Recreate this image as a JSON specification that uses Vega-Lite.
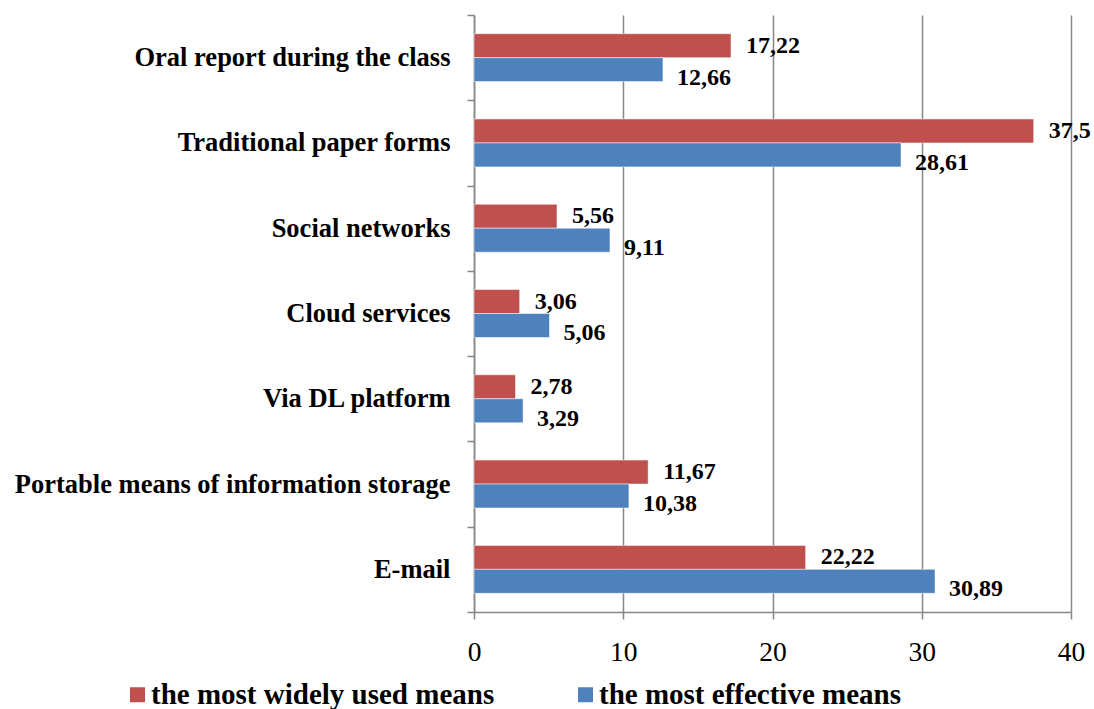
{
  "$schema": "https://vega.github.io/schema/vega-lite/v6.json",
  "width": 597,
  "height": 597,
  "autosize": {"type": "none"},
  "padding": {"left": 474, "top": 15, "right": 23, "bottom": 97},
  "background": "white",
  "config": {
    "font": "Liberation Serif",
    "view": {"stroke": null}
  },
  "data": {
    "values": [
      {"category": "Oral report during the class", "series": "the most widely used means", "value": 17.22, "label": "17,22"},
      {"category": "Oral report during the class", "series": "the most effective means", "value": 12.66, "label": "12,66"},
      {"category": "Traditional paper forms", "series": "the most widely used means", "value": 37.5, "label": "37,5"},
      {"category": "Traditional paper forms", "series": "the most effective means", "value": 28.61, "label": "28,61"},
      {"category": "Social networks", "series": "the most widely used means", "value": 5.56, "label": "5,56"},
      {"category": "Social networks", "series": "the most effective means", "value": 9.11, "label": "9,11"},
      {"category": "Cloud services", "series": "the most widely used means", "value": 3.06, "label": "3,06"},
      {"category": "Cloud services", "series": "the most effective means", "value": 5.06, "label": "5,06"},
      {"category": "Via DL platform", "series": "the most widely used means", "value": 2.78, "label": "2,78"},
      {"category": "Via DL platform", "series": "the most effective means", "value": 3.29, "label": "3,29"},
      {"category": "Portable means of information storage", "series": "the most widely used means", "value": 11.67, "label": "11,67"},
      {"category": "Portable means of information storage", "series": "the most effective means", "value": 10.38, "label": "10,38"},
      {"category": "E-mail", "series": "the most widely used means", "value": 22.22, "label": "22,22"},
      {"category": "E-mail", "series": "the most effective means", "value": 30.89, "label": "30,89"}
    ]
  },
  "encoding": {
    "y": {
      "field": "category",
      "type": "nominal",
      "sort": ["Oral report during the class", "Traditional paper forms", "Social networks", "Cloud services", "Via DL platform", "Portable means of information storage", "E-mail"],
      "scale": {"paddingInner": 0, "paddingOuter": 0},
      "axis": {
        "title": null,
        "tickBand": "extent",
        "domainColor": "#868686",
        "domainWidth": 1.5,
        "tickColor": "#868686",
        "tickWidth": 1.5,
        "tickSize": 7,
        "labelPadding": 17,
        "labelFont": "Liberation Serif",
        "labelFontSize": 26.5,
        "labelFontWeight": "bold",
        "labelColor": "black",
        "labelLimit": 500,
        "grid": false
      }
    },
    "yOffset": {
      "field": "series",
      "type": "nominal",
      "sort": ["the most widely used means", "the most effective means"],
      "scale": {"paddingInner": 0, "paddingOuter": 0.78}
    },
    "x": {
      "field": "value",
      "type": "quantitative",
      "scale": {"domain": [0, 40], "nice": false},
      "axis": {
        "title": null,
        "values": [0, 10, 20, 30, 40],
        "grid": true,
        "gridColor": "#868686",
        "gridWidth": 1.5,
        "domainColor": "#868686",
        "domainWidth": 1.5,
        "tickColor": "#868686",
        "tickWidth": 1.5,
        "tickSize": 7,
        "labelPadding": 19,
        "labelFont": "Liberation Serif",
        "labelFontSize": 27.5,
        "labelColor": "black",
        "labelFlush": false
      }
    }
  },
  "layer": [
    {
      "mark": {"type": "bar", "stroke": "white", "strokeWidth": 0.5},
      "encoding": {
        "color": {
          "field": "series",
          "type": "nominal",
          "sort": ["the most widely used means", "the most effective means"],
          "scale": {"domain": ["the most widely used means", "the most effective means"], "range": ["#C0504D", "#4F81BD"]},
          "legend": {
            "title": null,
            "orient": "none",
            "direction": "horizontal",
            "columns": 2,
            "columnPadding": 76,
            "legendX": -351,
            "legendY": 665,
            "padding": 0,
            "symbolType": "square",
            "symbolSize": 225,
            "symbolStrokeWidth": 0,
            "symbolOpacity": 1,
            "labelFont": "Liberation Serif",
            "labelFontSize": 29,
            "labelFontWeight": "bold",
            "labelColor": "black",
            "labelOffset": -1,
            "labelLimit": 500
          }
        }
      }
    },
    {
      "transform": [{"filter": "datum.series === 'the most widely used means'"}],
      "mark": {"type": "text", "align": "left", "baseline": "middle", "dx": 15, "dy": 0, "font": "Liberation Serif", "fontSize": 24, "fontWeight": "bold", "color": "black"},
      "encoding": {"text": {"field": "label"}}
    },
    {
      "transform": [{"filter": "datum.series === 'the most effective means'"}],
      "mark": {"type": "text", "align": "left", "baseline": "middle", "dx": 14, "dy": 8, "font": "Liberation Serif", "fontSize": 24, "fontWeight": "bold", "color": "black"},
      "encoding": {"text": {"field": "label"}}
    }
  ]
}
